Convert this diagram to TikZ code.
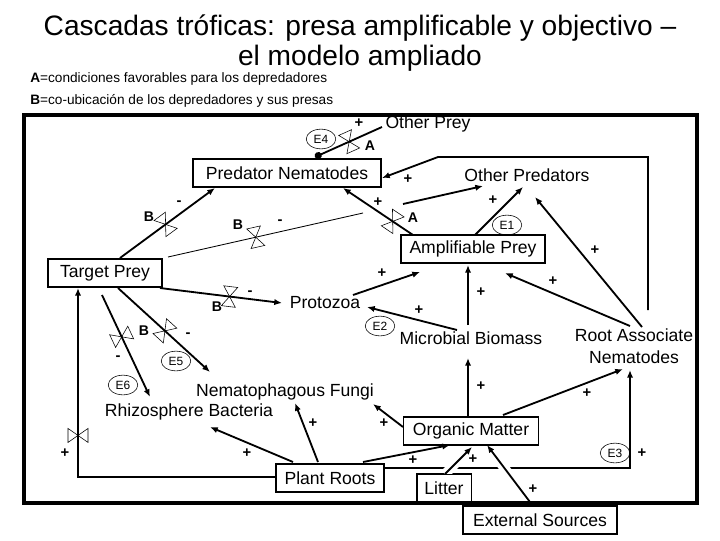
\documentclass[tikz,border=0pt]{standalone}
\usepackage{fontspec}
\setmainfont{Liberation Sans}
\usetikzlibrary{positioning,arrows.meta,calc,shapes.geometric}

\begin{document}
\begin{tikzpicture}[x=0.025cm,y=-0.025cm,>={Latex[length=5.5pt,width=4.5pt]},
  box/.style={draw,line width=1.3pt,inner sep=0pt,minimum height=20pt,font=\fontsize{12.5}{15}\selectfont},
  lbl/.style={inner sep=1pt,font=\fontsize{12.5}{15.5}\selectfont},
  conn/.style={line width=1.3pt},
  elab/.style={draw,ellipse,line width=.4pt,inner sep=0pt,minimum width=21pt,minimum height=14pt,font=\fontsize{8.5}{10}\selectfont},
  sgn/.style={inner sep=0pt,font=\fontsize{10.5}{12}\selectfont\bfseries},
  cond/.style={inner sep=0pt,font=\fontsize{10}{12}\selectfont\bfseries},
  valve/.pic={\draw[-,line width=.4pt] (-7,-10) -- (7,-10) -- (-7,10) -- (7,10) -- cycle;}]
\fill[white] (0,0) rectangle (720,540);
\useasboundingbox (0,0) rectangle (720,540);

% Title and legend.
\node[font=\fontsize{20}{24}\selectfont,anchor=base] (title1) at (360,35) {Cascadas tróficas: presa amplificable y objectivo –};
\node[font=\fontsize{20}{24}\selectfont,anchor=base] (title2) at (360,65) {el modelo ampliado};
\node[font=\fontsize{9.7}{12}\selectfont,anchor=base west,inner sep=0pt] (legA) at (30,82) {\textbf{A}=condiciones favorables para los depredadores};
\node[font=\fontsize{9.7}{12}\selectfont,anchor=base west,inner sep=0pt] (legB) at (30,104) {\textbf{B}=co-ubicación de los depredadores y sus presas};

\draw[line width=2.3pt] (24,115) rectangle (697,503);

% Compartments.
\node[box,minimum width=134pt] (pn) at (287,173) {Predator Nematodes};
\node[lbl] (oprey) at (428,124) {Other Prey};
\node[lbl] (opred) at (527,175) {Other Predators};
\node[box,minimum width=102pt] (ap) at (473,249) {Amplifiable Prey};
\node[box,minimum width=81pt] (tp) at (105,273) {Target Prey};
\node[lbl] (proto) at (325,303) {Protozoa};
\node[lbl] (mb) at (471,338) {Microbial Biomass};
\node[lbl,align=center] (ran) at (634,346) {Root Associate\\Nematodes};
\node[lbl] (nf) at (285,392) {Nematophagous Fungi};
\node[lbl] (rb) at (189,412) {Rhizosphere Bacteria};
\node[box,minimum width=96pt] (om) at (471,431) {Organic Matter};
\node[box,minimum width=77pt] (pr) at (330,478) {Plant Roots};
\node[box,minimum width=39pt] (lit) at (444,488) {Litter};
\node[box,minimum width=109pt] (ext) at (540,520) {External Sources};

% Effect tags.
\node[elab] (e4) at (321,139) {E4};
\node[elab] (e1) at (507,225) {E1};
\node[elab] (e2) at (380,326) {E2};
\node[elab] (e5) at (176,361) {E5};
\node[elab] (e6) at (123,385) {E6};
\node[elab] (e3) at (615,453) {E3};

\coordinate (opc) at (438,157);
\coordinate (apfree) at (403,204);
\coordinate (tpfree) at (363,213);

% Flows into the predators.
\draw[conn,-{Circle[length=5pt]}] ($(oprey)+(-46,3)$) -- ($(pn)+(28,-16)$) pic[pos=.49,sloped]{valve};
\draw[conn,->] ($(ran)+(14,-36)$) |- (opc) -- ($(pn)+(95,5)$);
\draw[conn,->] ($(ap)+(-60,-14)$) -- ($(pn)+(56,15)$) pic[pos=.29,sloped]{valve};
\draw[conn,->] (apfree) -- ($(opred)+(-44,11)$);
\draw[conn,->] ($(ap)+(2,-14)$) -- ($(opred)+(-4,12)$);
\draw[conn,->] ($(ran)+(8,-19)$) -- ($(opred)+(8,22)$);
\draw[conn,->] ($(tp)+(15,-15)$) -- ($(pn)+(-72,15)$) pic[pos=.48,sloped]{valve};
\draw[line width=.6pt] ($(tp)+(63,-16)$) -- (tpfree) pic[pos=.45,sloped]{valve};

% Flows into the prey.
\draw[conn,->] ($(ran)+(-4,-20)$) -- ($(ap)+(32,24)$);
\draw[conn,->] ($(mb)+(-3,-13)$) -- ($(ap)+(-5,16)$);
\draw[conn,->] ($(proto)+(28,-8)$) -- ($(ap)+(-53,23)$);
\draw[conn,->] ($(mb)+(-14,-8)$) -- ($(proto)+(42,4)$);
\draw[conn,->] ($(tp)+(55,15)$) -- ($(proto)+(-43,0)$) pic[pos=.57,sloped]{valve};
\draw[conn,->] ($(tp)+(13,15)$) -- ($(nf)+(-75,-20)$) pic[pos=.51,sloped]{valve};
\draw[conn,->] ($(tp)+(-3,22)$) -- ($(rb)+(-39,-15)$) pic[pos=.41,sloped]{valve};
\draw[conn,->] ($(pr)+(-54,-1)$) -| ($(tp)+(-27,15)$) pic[pos=.61,sloped]{valve};

% Roots and organic matter.
\draw[conn,->] ($(pr)+(-37,-16)$) -- ($(rb)+(21,15)$);
\draw[conn,->] ($(pr)+(-12,-16)$) -- ($(nf)+(10,11)$);
\draw[conn,->] ($(pr)+(33,-16)$) -- ($(om)+(-21,14)$);
\draw[conn,->] ($(om)+(-68,-4)$) -- ($(nf)+(88,12)$);
\draw[conn,->] ($(om)+(-3,-14)$) -- ($(mb)+(-3,20)$);
\draw[conn,->] ($(om)+(32,-16)$) -- ($(ran)+(-11,23)$);
\draw[conn,->] ($(pr)+(54,-10)$) -| ($(ran)+(-4,24)$);
% Line jumps where litter and external inputs cross.
\begin{scope}
\clip (380,462) rectangle (640,473);
\draw[white,line width=7pt] ($(lit)+(1,-14)$) -- ($(om)+(1,16)$);
\draw[white,line width=7pt] ($(ext)+(-7,-14)$) -- ($(om)+(16,14)$);
\end{scope}
\draw[conn,->] ($(lit)+(1,-14)$) -- ($(om)+(1,16)$);
\draw[conn,->] ($(ext)+(-7,-14)$) -- ($(om)+(16,14)$);

% Condition labels.
\node[cond] (condA1) at (370,146) {A};
\node[cond] (condA2) at (413,218) {A};
\node[cond] (condB1) at (149,217) {B};
\node[cond] (condB2) at (238,225) {B};
\node[cond] (condB3) at (217,307) {B};
\node[cond] (condB4) at (144,331) {B};

% Signs.
\foreach \x/\y [count=\i] in {359/123,408/179,378/202,493/200,595/250,553/281,481/292,382/273,419/310,65/453,247/453,313/423,384/423,413/460,473/459,533/489,642/453,481/386,587/393}
  \node[sgn] (plus\i) at (\x,\y) {+};
\foreach \x/\y [count=\i] in {179/203,280/222,250/293,188/335,118/358}
  \node[sgn] (minus\i) at (\x,\y) {-};
\end{tikzpicture}
\end{document}
